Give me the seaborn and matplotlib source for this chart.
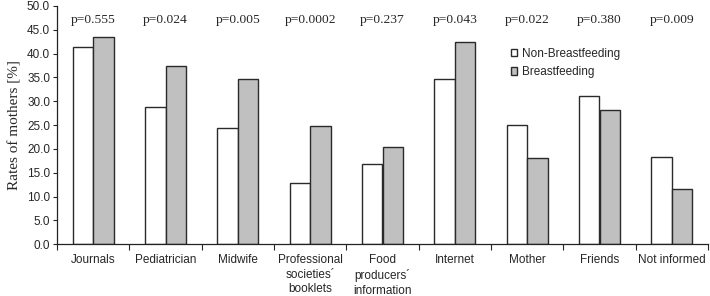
import matplotlib
matplotlib.use("Agg")
import matplotlib.pyplot as plt
import seaborn as sns
import pandas as pd
from matplotlib.ticker import FormatStrFormatter, FixedLocator

categories = ["Journals", "Pediatrician", "Midwife", "Professional\nsocieties\u00b4\nbooklets",
              "Food\nproducers\u00b4\ninformation", "Internet", "Mother", "Friends", "Not informed"]
non_bf = [41.3, 28.9, 24.4, 12.9, 16.9, 34.6, 25.1, 31.1, 18.3]
bf = [43.4, 37.4, 34.6, 24.9, 20.4, 42.4, 18.1, 28.1, 11.6]
p_values = ["p=0.555", "p=0.024", "p=0.005", "p=0.0002", "p=0.237",
            "p=0.043", "p=0.022", "p=0.380", "p=0.009"]
series = ["Non-Breastfeeding", "Breastfeeding"]

df = pd.DataFrame({
    "category": categories * 2,
    "value": non_bf + bf,
    "group": [series[0]] * len(categories) + [series[1]] * len(categories),
})

sns.set_style("white")
plt.rcParams["font.family"] = ["Liberation Sans", "DejaVu Sans"]

fig = plt.figure(figsize=(7.1, 2.96), dpi=100)
ax = fig.add_axes([57 / 710, 1 - 244.3 / 296, 651 / 710, 238.3 / 296])

sns.barplot(data=df, x="category", y="value", hue="group", hue_order=series,
            palette={series[0]: "#ffffff", series[1]: "#c0c0c0"},
            edgecolor="#2a2a2a", linewidth=1.0, width=0.567, gap=0,
            ax=ax, saturation=1)

ax.set_xlim(-0.5, len(categories) - 0.5)
ax.set_ylim(0, 50)
ax.set_yticks([i * 5 for i in range(11)])
ax.yaxis.set_major_formatter(FormatStrFormatter("%.1f"))
ax.tick_params(axis="y", direction="out", length=3, width=0.8, labelsize=8.5, pad=2, left=True)
ax.tick_params(axis="x", which="major", length=0, labelsize=8.5, pad=7)
for lbl in ax.get_xticklabels():
    lbl.set_linespacing(1.3)
ax.xaxis.set_minor_locator(FixedLocator([i - 0.5 for i in range(len(categories) + 1)]))
ax.tick_params(axis="x", which="minor", direction="out", length=4, width=0.8, bottom=True)
ax.set_xlabel("")
ax.set_ylabel("Rates of mothers [%]", fontsize=11, family=["Liberation Serif"], labelpad=4)

for s in ["top", "right"]:
    ax.spines[s].set_visible(False)
for s in ["left", "bottom"]:
    ax.spines[s].set_color("#222222")
    ax.spines[s].set_linewidth(0.9)

for i, p in enumerate(p_values):
    ax.text(i, 47.1, p, ha="center", va="center", fontsize=9.7, family=["Liberation Serif"])

leg = ax.legend(loc="upper left", bbox_to_anchor=(0.69, 0.845), frameon=False, fontsize=8.5,
                handlelength=0.55, handleheight=0.55, handletextpad=0.4, labelspacing=0.55,
                borderaxespad=0)

fig.savefig("out.png", dpi=100)
